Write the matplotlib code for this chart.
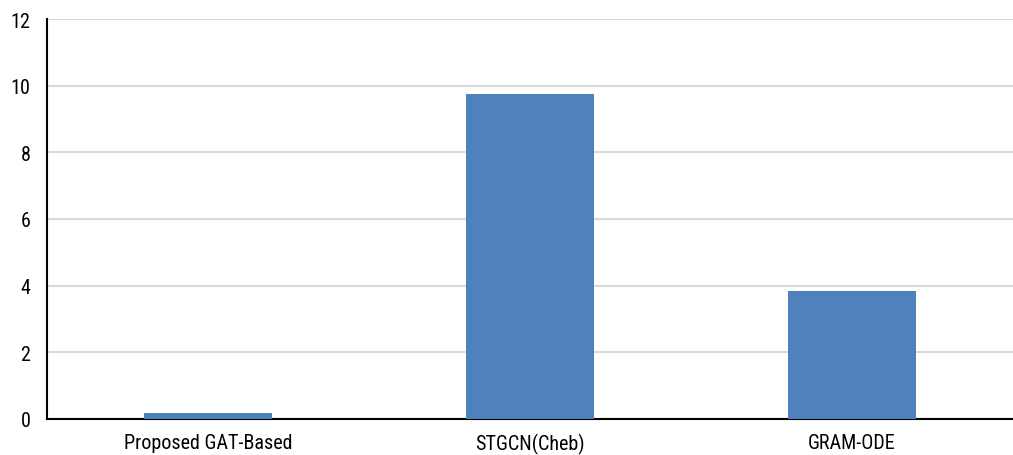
import matplotlib
matplotlib.use("Agg")
import matplotlib.pyplot as plt

categories = ["Proposed GAT-Based", "STGCN(Cheb)", "GRAM-ODE"]
values = [0.18, 9.74, 3.83]
yticks = [0, 2, 4, 6, 8, 10, 12]

plt.rcParams["font.family"] = ["Roboto Condensed", "Liberation Sans", "DejaVu Sans"]

fig = plt.figure(figsize=(10.13, 4.56), dpi=100)
ax = fig.add_axes([47/1013, 36/456, 1 - 47/1013, 400/456])
x = list(range(len(categories)))
ax.bar(x, values, width=0.4, color="#4f81bd", zorder=3)
ax.set_xlim(-0.5, 2.5)
ax.set_ylim(0, 12)
ax.set_yticks(yticks)
ax.set_xticks(x)
ax.set_xticklabels(categories)
ax.yaxis.grid(True, color="#d9d9d9", linewidth=1.5, zorder=0)
ax.set_axisbelow(True)
for s in ["top", "right"]:
    ax.spines[s].set_visible(False)
for s in ["left", "bottom"]:
    ax.spines[s].set_color("black")
    ax.spines[s].set_linewidth(1.5)
ax.tick_params(axis="both", length=0, labelsize=14.5, colors="black")
ax.tick_params(axis="y", pad=12)
ax.tick_params(axis="x", pad=10)
fig.savefig("out.png", dpi=100)
